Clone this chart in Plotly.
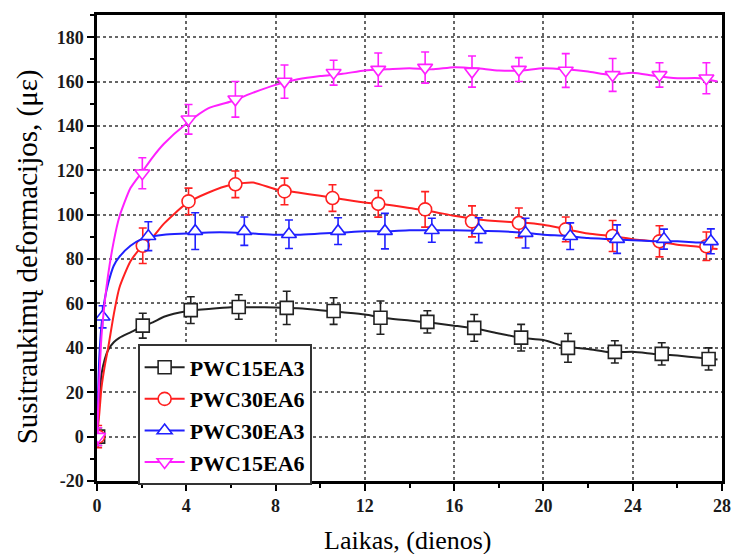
import plotly.graph_objects as go

# Time axis (days) for the continuous strain curves
days = [0, 0.1, 0.2, 0.35, 0.5, 0.75, 1, 1.5, 2, 2.5, 3, 4, 5, 6, 7, 8, 9, 10, 11, 12,
        13, 14, 15, 16, 17, 18, 19, 20, 21, 22, 23, 24, 25, 26, 27, 27.8]

pwc15ea3_line = [0, 15, 28, 35, 39, 42.5, 44.5, 47, 49.5, 51.5, 54, 56.5, 57.5, 58.3, 58.3,
                 58.2, 57.8, 57, 56, 55, 53.3, 52.3, 51.3, 50, 48.6, 46.5, 44.5, 43.5, 40.5,
                 39.5, 38, 38.2, 37.2, 36.5, 35.5, 34.8]
pwc30ea6_line = [0, 10, 22, 32, 40, 55, 67, 79, 85.5, 90, 96, 105, 110, 113.5, 114.5, 111.5,
                 110, 108.5, 107, 105.5, 104.5, 103, 101.5, 99.5, 98, 97, 96.5, 95.5, 93.5,
                 91.5, 90.5, 89, 88, 86.5, 85.5, 84.5]
pwc30ea3_line = [0, 35, 50, 62, 69, 77, 81, 86, 89, 90.3, 91, 91.5, 92, 92, 91.5, 91, 91,
                 91.5, 92, 92.5, 92.5, 93, 93, 93, 92.8, 92.5, 92, 91, 90.5, 89.5, 89, 88.5,
                 88, 88, 87.5, 87.5]
pwc15ea6_line = [0, 25, 45, 61, 73, 88, 99, 112, 119, 126, 132, 141, 148, 151, 155, 158.5,
                 161, 162.5, 163.5, 165, 165.5, 166, 165.5, 166.5, 166, 165, 165, 166, 165.5,
                 164.5, 163, 164, 162.5, 161.5, 161.5, 160]

# Measured points with standard deviation
pwc15ea3_x = [0.05, 2.05, 4.2, 6.35, 8.5, 10.6, 12.7, 14.8, 16.9, 19.0, 21.1, 23.2, 25.3, 27.4]
pwc15ea3_y = [0, 50, 57, 58.4, 58, 56.6, 53.6, 51.7, 49, 44.6, 40, 38.2, 37.3, 35]
pwc15ea3_err = [4, 5.6, 6, 5.5, 7.5, 6, 7.5, 5, 6, 6, 6.5, 5, 5, 5]

pwc30ea6_x = [0.05, 2.05, 4.1, 6.2, 8.4, 10.55, 12.6, 14.7, 16.8, 18.9, 21.0, 23.1, 25.2, 27.3]
pwc30ea6_y = [0, 86, 106, 113.7, 110.5, 107.5, 104.9, 102.4, 97, 96.3, 93.4, 90.4, 88, 85.8]
pwc30ea6_err = [5, 8, 6, 6, 6, 6, 6, 8, 7, 6.7, 5.6, 7, 7, 6.4]

pwc30ea3_x = [0.25, 2.3, 4.4, 6.6, 8.6, 10.8, 12.9, 15.0, 17.1, 19.2, 21.2, 23.3, 25.4, 27.5]
pwc30ea3_y = [54, 90.3, 92.6, 92.6, 91.2, 92.6, 92.6, 93, 93, 91.7, 90.3, 89, 89, 88]
pwc30ea3_err = [5, 6.5, 8.3, 6.4, 6.4, 6, 8, 5.4, 5.6, 6.7, 6, 6.4, 4.5, 5.6]

pwc15ea6_x = [0.05, 2.03, 4.1, 6.2, 8.4, 10.6, 12.6, 14.7, 16.8, 18.9, 21.0, 23.1, 25.2, 27.3]
pwc15ea6_y = [0, 118.7, 143, 152, 160, 164, 165.4, 166.3, 164.5, 165.4, 165, 163, 163, 161.5]
pwc15ea6_err = [4, 7, 6.7, 8, 7.5, 5.6, 7.5, 7, 7, 5.4, 7.6, 7.4, 5.5, 7]

x_ticks = [0, 4, 8, 12, 16, 20, 24, 28]
y_ticks = [-20, 0, 20, 40, 60, 80, 100, 120, 140, 160, 180]

series = [
    ("PWC15EA3", "#222222", "square", pwc15ea3_line, pwc15ea3_x, pwc15ea3_y, pwc15ea3_err),
    ("PWC30EA6", "#ff2020", "circle", pwc30ea6_line, pwc30ea6_x, pwc30ea6_y, pwc30ea6_err),
    ("PWC30EA3", "#2020ff", "triangle-up", pwc30ea3_line, pwc30ea3_x, pwc30ea3_y, pwc30ea3_err),
    ("PWC15EA6", "#ff20ff", "triangle-down", pwc15ea6_line, pwc15ea6_x, pwc15ea6_y, pwc15ea6_err),
]

fig = go.Figure()

for name, color, symbol, line_vals, mx, my, merr in series:
    fig.add_trace(go.Scatter(
        x=days, y=line_vals, mode="lines", line=dict(color=color, width=2, shape="spline", smoothing=0.6),
        showlegend=False, hoverinfo="skip"))
    fig.add_trace(go.Scatter(
        x=mx, y=my, mode="markers",
        marker=dict(symbol=symbol, size=13, color="white", line=dict(color=color, width=1.6)),
        error_y=dict(type="data", array=merr, color=color, thickness=1.6, width=4),
        showlegend=False))
    # legend entry: line with marker
    fig.add_trace(go.Scatter(
        x=[None], y=[None], mode="lines+markers", name=f"<b>{name}</b>",
        line=dict(color=color, width=2),
        marker=dict(symbol=symbol, size=13, color="white", line=dict(color=color, width=1.6))))

serif = "Liberation Serif"
tick_font = dict(family=serif, size=18, color="#1a1a1a")
grid = dict(showgrid=True, gridcolor="#666666", gridwidth=1.5, griddash="dot")

fig.update_xaxes(
    range=[0, 28], tickvals=x_ticks, ticktext=[f"<b>{v}</b>" for v in x_ticks],
    ticks="outside", ticklen=7, tickwidth=2, tickcolor="black", tickfont=tick_font,
    minor=dict(dtick=2, tick0=0, ticks="outside", ticklen=4, tickwidth=2, tickcolor="black", showgrid=False),
    showline=True, linecolor="black", linewidth=2.5, mirror=True, zeroline=False, **grid)
fig.update_yaxes(
    range=[-20, 190], tickvals=y_ticks, ticktext=[f"<b>{v}</b>" for v in y_ticks],
    ticks="outside", ticklen=7, tickwidth=2, tickcolor="black", tickfont=tick_font,
    minor=dict(dtick=10, tick0=0, ticks="outside", ticklen=4, tickwidth=2, tickcolor="black", showgrid=False),
    showline=True, linecolor="black", linewidth=2.5, mirror=True, zeroline=False, **grid)

fig.update_layout(
    width=743, height=554,
    margin=dict(l=97, r=12, t=14, b=73),
    paper_bgcolor="white", plot_bgcolor="white",
    legend=dict(
        x=0.065, y=0.293, xanchor="left", yanchor="top",
        bgcolor="white", bordercolor="#333333", borderwidth=2,
        font=dict(family=serif, size=22, color="black"),
        itemwidth=40),
    annotations=[
        dict(text="Laikas, (dienos)", xref="paper", yref="paper", x=0.497, y=-0.128,
             xanchor="center", yanchor="middle", showarrow=False,
             font=dict(family=serif, size=26, color="black")),
        dict(text="Susitraukimų deformacijos, (με)", xref="paper", yref="paper", x=-0.112, y=0.48,
             xanchor="center", yanchor="middle", showarrow=False, textangle=-90,
             font=dict(family=serif, size=29, color="black")),
    ],
)

fig.write_html("out.html")
